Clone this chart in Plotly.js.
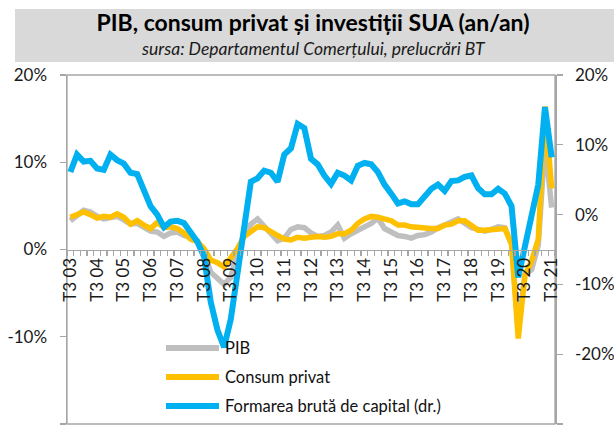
<!DOCTYPE html>
<html>
<head>
<meta charset="utf-8">
<script src="https://cdn.plot.ly/plotly-3.0.1.min.js"></script>
<style>
html,body{margin:0;padding:0;background:#fff;}
#chart{width:614px;height:430px;}
</style>
</head>
<body>
<div id="chart"></div>
<script>
// Quarterly categories (T3 2003 .. T3 2021)
const categories = [
"T3 03","T4 03",
"T1 04","T2 04","T3 04","T4 04",
"T1 05","T2 05","T3 05","T4 05",
"T1 06","T2 06","T3 06","T4 06",
"T1 07","T2 07","T3 07","T4 07",
"T1 08","T2 08","T3 08","T4 08",
"T1 09","T2 09","T3 09","T4 09",
"T1 10","T2 10","T3 10","T4 10",
"T1 11","T2 11","T3 11","T4 11",
"T1 12","T2 12","T3 12","T4 12",
"T1 13","T2 13","T3 13","T4 13",
"T1 14","T2 14","T3 14","T4 14",
"T1 15","T2 15","T3 15","T4 15",
"T1 16","T2 16","T3 16","T4 16",
"T1 17","T2 17","T3 17","T4 17",
"T1 18","T2 18","T3 18","T4 18",
"T1 19","T2 19","T3 19","T4 19",
"T1 20","T2 20","T3 20","T4 20",
"T1 21","T2 21","T3 21"
];

// PIB (left axis, %)
const pib = [3.3,4.0,4.5,4.3,3.8,3.5,3.6,3.8,3.4,2.9,
3.0,2.6,2.1,2.0,1.5,1.9,2.0,1.6,1.4,1.0,
-0.4,-2.6,-3.3,-4.0,-3.2,-0.3,1.7,2.9,3.5,2.7,
1.9,1.0,1.3,2.3,2.6,2.5,1.9,1.5,1.6,2.0,
2.8,1.3,1.8,2.2,2.6,3.0,3.6,2.4,2.0,1.6,
1.5,1.3,1.6,1.7,2.0,2.5,2.8,3.2,3.5,3.0,
2.5,2.3,2.1,2.3,2.6,2.5,0.6,-9.1,-2.9,-2.3,
0.5,12.2,4.8];

// Consum privat (left axis, %)
const consum = [3.7,4.0,4.3,4.0,3.6,3.8,3.7,4.1,3.7,2.9,
3.3,2.8,2.4,3.1,2.5,2.6,2.4,1.9,1.2,0.9,
0.1,-1.2,-1.5,-2.0,-0.9,0.1,1.5,2.1,2.6,2.5,
2.0,1.6,1.2,1.1,1.4,1.3,1.4,1.5,1.4,1.5,
1.8,1.8,2.2,3.0,3.5,3.8,3.7,3.5,3.3,2.8,
2.8,2.6,2.5,2.4,2.4,2.4,2.8,2.9,3.3,3.3,
2.7,2.2,2.2,2.3,2.4,2.4,0.6,-10.2,-3.0,-1.3,
1.2,16.4,7.0];

// Formarea bruta de capital (right axis, %)
const capital = [6.1,8.6,7.6,7.7,6.6,6.4,8.6,7.8,7.3,6.0,
5.8,3.6,1.2,0.0,-1.8,-1.0,-0.9,-1.2,-2.6,-3.9,
-6.0,-12.5,-16.5,-19.0,-15.0,-8.0,-2.0,4.7,5.2,6.3,
6.0,4.7,8.6,9.5,13.0,12.4,8.0,7.2,5.6,4.4,
6.0,5.6,4.9,7.0,7.4,7.2,6.1,4.3,3.0,1.6,
1.9,1.5,1.5,2.6,3.7,4.3,3.4,4.8,4.9,5.4,
5.6,3.8,2.9,2.9,3.7,3.0,1.2,-9.0,-4.3,-0.2,
4.3,15.4,8.2];

const seriesNames = ["PIB","Consum privat","Formarea brută de capital (dr.)"];
const tickText = categories.map(c => c.indexOf("T3") === 0 ? c : "");
const leftTicks = [-20,-10,0,10,20];
const rightTicks = [-30,-20,-10,0,10,20];

const colors = ["#bfbfbf","#ffc000","#00b0f0"];
const FONT = "Lato, 'Open Sans', sans-serif";
const AX = "#a6a6a6";

// layout geometry (pixels)
const W = 614, H = 430, L = 67, R = 555, T = 75, B = 424;
const px = x => (x - L) / (R - L);
const py = y => (B - y) / (B - T);

const traces = [
  {x: categories, y: pib, name: seriesNames[0], type: "scatter", mode: "lines",
   line: {color: colors[0], width: 5.5}, yaxis: "y", hoverinfo: "skip"},
  {x: categories, y: consum, name: seriesNames[1], type: "scatter", mode: "lines",
   line: {color: colors[1], width: 5.5}, yaxis: "y", hoverinfo: "skip"},
  {x: categories, y: capital, name: seriesNames[2], type: "scatter", mode: "lines",
   line: {color: colors[2], width: 6}, yaxis: "y2", hoverinfo: "skip"}
];

// custom legend
const legendRows = [348, 377, 406];
const shapes = [
  {type: "rect", xref: "paper", yref: "paper", x0: px(15), x1: px(614), y0: py(62), y1: py(9),
   fillcolor: "#d9d9d9", line: {width: 0}, layer: "below"},
  {type: "rect", xref: "paper", yref: "paper", x0: 0, x1: 1, y0: 0, y1: 1,
   line: {color: AX, width: 1.3}, layer: "below"}
];
const annotations = [
  {text: "sursa: Departamentul Comerțului, prelucrări BT", xref: "paper", yref: "paper",
   x: px(313), y: py(49), xanchor: "center", yanchor: "middle", showarrow: false,
   font: {family: FONT, size: 17.5, color: "#1a1a1a", style: "italic"}}
];
seriesNames.forEach((n, i) => {
  shapes.push({type: "line", xref: "paper", yref: "paper", x0: px(166), x1: px(219),
    y0: py(legendRows[i]), y1: py(legendRows[i]), line: {color: colors[i], width: 6}, layer: "above"});
  annotations.push({text: n, xref: "paper", yref: "paper", x: px(223), y: py(legendRows[i]),
    xanchor: "left", yanchor: "middle", showarrow: false,
    font: {family: FONT, size: 16.5, color: "#111"}});
});

const layout = {
  width: W, height: H,
  margin: {l: L, r: W - R, t: T, b: H - B, pad: 0},
  paper_bgcolor: "#fff", plot_bgcolor: "rgba(0,0,0,0)",
  showlegend: false,
  title: {text: "<b>PIB, consum privat și investiții SUA (an/an)</b>", xref: "container", yref: "container",
    x: 313 / W, y: 1 - 23 / H, xanchor: "center", yanchor: "middle",
    font: {family: FONT, size: 23, color: "#000"}},
  xaxis: {type: "category", categoryorder: "array", categoryarray: categories,
    range: [-0.5, categories.length - 0.5],
    anchor: "free", position: 0.5,
    tickmode: "array", tickvals: categories, ticktext: tickText, tickson: "boundaries",
    ticks: "outside", ticklen: 5, tickwidth: 1.3, tickcolor: AX,
    tickangle: -90, tickfont: {family: FONT, size: 17, color: "#1a1a1a"},
    showline: true, linecolor: AX, linewidth: 1.5, showgrid: false, zeroline: false, fixedrange: true},
  yaxis: {range: [-20, 20], tickvals: leftTicks, ticktext: leftTicks.map(v => v + "%"),
    ticks: "outside", ticklen: 6, tickwidth: 1.3, tickcolor: AX, ticklabelstandoff: 9,
    tickfont: {family: FONT, size: 17, color: "#1a1a1a"},
    showline: true, linecolor: AX, linewidth: 1.5, showgrid: false, zeroline: false, fixedrange: true},
  yaxis2: {range: [-30, 20], tickvals: rightTicks, ticktext: rightTicks.map(v => v + "%"),
    overlaying: "y", side: "right",
    ticks: "outside", ticklen: 6, tickwidth: 1.3, tickcolor: AX, ticklabelstandoff: 9,
    tickfont: {family: FONT, size: 17, color: "#1a1a1a"},
    showline: true, linecolor: AX, linewidth: 1.5, showgrid: false, zeroline: false, fixedrange: true},
  shapes: shapes,
  annotations: annotations
};

Plotly.newPlot("chart", traces, layout, {staticPlot: true, displayModeBar: false});
</script>
</body>
</html>
